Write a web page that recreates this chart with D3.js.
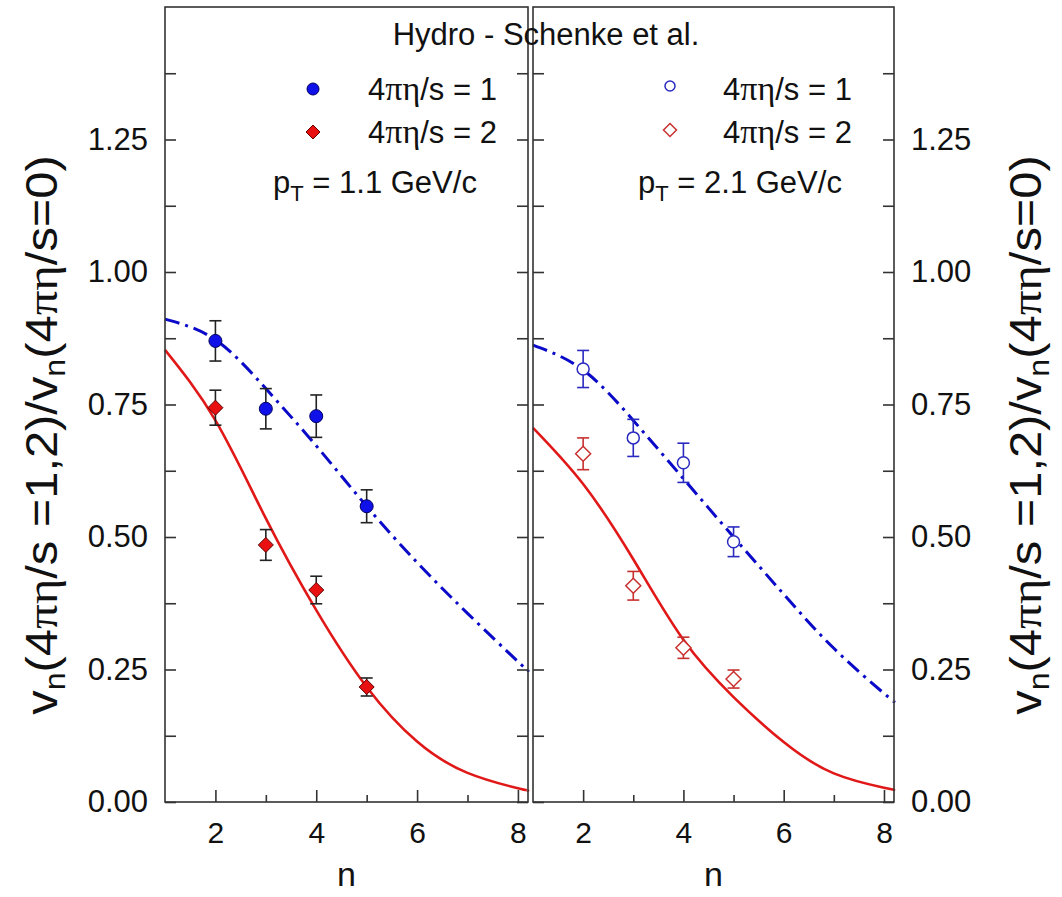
<!DOCTYPE html>
<html>
<head>
  <meta charset="UTF-8">
  <style>
    body { margin: 0; background: white; }
    text { font-family: "Liberation Sans", Arial, sans-serif; fill: #111; }
    .sym { font-family: "Liberation Serif", "Times New Roman", serif; }
  </style>
</head>
<body>
<svg></svg>
<script src="https://d3js.org/d3.v7.min.js"></script>
<script>

// data points (n = 2..5)
let nPts = [2, 3, 4, 5];
let leftEta1 = [0.870, 0.742, 0.728, 0.558];
let leftEta1Err = [0.038, 0.038, 0.040, 0.031];
let leftEta2 = [0.744, 0.485, 0.400, 0.217];
let leftEta2Err = [0.033, 0.029, 0.026, 0.017];
let rightEta1 = [0.817, 0.687, 0.640, 0.491];
let rightEta1Err = [0.035, 0.035, 0.037, 0.028];
let rightEta2 = [0.657, 0.408, 0.291, 0.232];
let rightEta2Err = [0.030, 0.027, 0.020, 0.017];

// hydro curves
let nCurve = [1, 2, 3, 4, 5, 6, 7, 8, 8.2];
let leftCurve1 = [0.911, 0.872, 0.780, 0.672, 0.558, 0.452, 0.356, 0.265, 0.248];
let leftCurve2 = [0.853, 0.720, 0.535, 0.362, 0.217, 0.114, 0.055, 0.026, 0.022];
let rightCurve1 = [0.862, 0.815, 0.720, 0.610, 0.500, 0.392, 0.290, 0.205, 0.190];
let rightCurve2 = [0.706, 0.600, 0.458, 0.306, 0.198, 0.113, 0.054, 0.027, 0.023];

let xMajor = [2, 4, 6, 8], xMinor = [3, 5, 7];
let yMajor = [0, 0.25, 0.5, 0.75, 1.0, 1.25];
let yMinor = [0.125, 0.375, 0.625, 0.875, 1.125, 1.375];

let width = 1062, height = 897;
let plotTop = 7, plotBottom = 802;

let svg = d3.select("svg").attr("width", width).attr("height", height);

let y = d3.scaleLinear().domain([0, 1.5]).range([plotBottom, plotTop]);

let blue = "#1010e8", red = "#e81010";

let panels = [
  {x0: 165, x1: 528, side: "left", filled: true, d1: leftEta1, e1: leftEta1Err, d2: leftEta2, e2: leftEta2Err,
   c1: leftCurve1, c2: leftCurve2, pt: "1.1"},
  {x0: 533, x1: 894, side: "right", filled: false, d1: rightEta1, e1: rightEta1Err, d2: rightEta2, e2: rightEta2Err,
   c1: rightCurve1, c2: rightCurve2, pt: "2.1"}
];

function diamond(g, cx, cy, r) {
  return g.append("path").attr("d", "M" + cx + "," + (cy - r) + "L" + (cx + r) + "," + cy + "L" + cx + "," + (cy + r) + "L" + (cx - r) + "," + cy + "Z");
}

function etaLabel(t, val) {
  t.append("tspan").text("4");
  t.append("tspan").attr("class", "sym").attr("font-size", 34).text("πη");
  t.append("tspan").text("/s = " + val);
}

panels.forEach(p => {
  let x = d3.scaleLinear().domain([1, 8.2]).range([p.x0, p.x1]);
  let g = svg.append("g");

  // curves
  let line1 = d3.line().x((d, i) => x(nCurve[i])).y(d => y(d)).curve(d3.curveNatural);
  g.append("path").attr("d", line1(p.c2)).attr("fill", "none")
    .attr("stroke", "#e01818").attr("stroke-width", 2.6);
  g.append("path").attr("d", line1(p.c1)).attr("fill", "none")
    .attr("stroke", "#0a0ac8").attr("stroke-width", 3)
    .attr("stroke-dasharray", "15,6,3,6");

  // error bars
  let errCol1 = p.filled ? "#222" : "#2a2ac0";
  let errCol2 = p.filled ? "#222" : "#c83030";
  [[p.d1, p.e1, errCol1], [p.d2, p.e2, errCol2]].forEach(s => {
    s[0].forEach((v, i) => {
      let cx = x(nPts[i]), e = s[1][i];
      let eg = g.append("g").attr("stroke", s[2]).attr("stroke-width", 1.6);
      eg.append("line").attr("x1", cx).attr("x2", cx).attr("y1", y(v - e)).attr("y2", y(v + e));
      eg.append("line").attr("x1", cx - 6).attr("x2", cx + 6).attr("y1", y(v - e)).attr("y2", y(v - e));
      eg.append("line").attr("x1", cx - 6).attr("x2", cx + 6).attr("y1", y(v + e)).attr("y2", y(v + e));
    });
  });

  // markers
  p.d1.forEach((v, i) => {
    let c = g.append("circle").attr("cx", x(nPts[i])).attr("cy", y(v));
    if (p.filled) c.attr("r", 6.5).attr("fill", blue).attr("stroke", "#000060").attr("stroke-width", 1);
    else c.attr("r", 6).attr("fill", "white").attr("stroke", "#2a2ac0").attr("stroke-width", 1.5);
  });
  p.d2.forEach((v, i) => {
    let d = diamond(g, x(nPts[i]), y(v), 7.5);
    if (p.filled) d.attr("fill", red).attr("stroke", "#600000").attr("stroke-width", 1);
    else d.attr("fill", "white").attr("stroke", "#c83030").attr("stroke-width", 1.5);
  });

  // frame
  g.append("rect").attr("x", p.x0).attr("y", plotTop).attr("width", p.x1 - p.x0).attr("height", plotBottom - plotTop)
    .attr("fill", "none").attr("stroke", "#333").attr("stroke-width", 1.6);

  // x axis
  let xa = g.append("g").attr("transform", "translate(0," + plotBottom + ")")
    .call(d3.axisBottom(x).tickValues(xMajor).tickSizeInner(-12).tickSizeOuter(0).tickPadding(20));
  xa.select(".domain").remove();
  xa.selectAll("line").attr("stroke", "#333").attr("stroke-width", 1.6);
  xa.selectAll("text").attr("font-size", 30).attr("font-family", "Liberation Sans, Arial, sans-serif").attr("fill", "#111");
  let xm = g.append("g").attr("transform", "translate(0," + plotBottom + ")")
    .call(d3.axisBottom(x).tickValues(xMinor).tickSizeInner(-7).tickSizeOuter(0).tickFormat(""));
  xm.select(".domain").remove();
  xm.selectAll("line").attr("stroke", "#333").attr("stroke-width", 1.6);

  // y ticks on both sides, pointing in
  [p.x0, p.x1].forEach((bx, k) => {
    let axisFn = k == 0 ? d3.axisLeft : d3.axisRight;
    let showLabels = (k == 0 && p.side == "left") || (k == 1 && p.side == "right");
    let ya = g.append("g").attr("transform", "translate(" + bx + ",0)")
      .call(axisFn(y).tickValues(yMajor.concat(yMinor)).tickSizeInner(-11).tickSizeOuter(0).tickPadding(17)
        .tickFormat(d => showLabels && yMajor.includes(d) ? d3.format(".2f")(d) : ""));
    ya.select(".domain").remove();
    ya.selectAll("line").attr("stroke", "#333").attr("stroke-width", 1.6);
    ya.selectAll("text").attr("font-size", 31).attr("font-family", "Liberation Sans, Arial, sans-serif").attr("fill", "#111");
  });

  // x label
  g.append("text").attr("x", (p.x0 + p.x1) / 2).attr("y", 886).attr("text-anchor", "middle")
    .attr("font-size", 34).text("n");

  // legend
  let lx = p.filled ? 313 : 670, tx = p.filled ? 368 : 723;
  if (p.filled) {
    g.append("circle").attr("cx", lx).attr("cy", 89).attr("r", 6).attr("fill", blue).attr("stroke", "#000060");
    diamond(g, lx, 132, 7).attr("fill", red).attr("stroke", "#600000");
  } else {
    g.append("circle").attr("cx", lx).attr("cy", 86).attr("r", 5).attr("fill", "none").attr("stroke", "#2a2ac0").attr("stroke-width", 1.5);
    diamond(g, lx, 130, 6.5).attr("fill", "none").attr("stroke", "#c83030").attr("stroke-width", 1.5);
  }
  etaLabel(g.append("text").attr("x", tx).attr("y", 100).attr("font-size", 31), 1);
  etaLabel(g.append("text").attr("x", tx).attr("y", 143).attr("font-size", 31), 2);

  let ptText = g.append("text").attr("x", p.filled ? 273 : 638).attr("y", 193).attr("font-size", 31);
  ptText.append("tspan").text("p");
  ptText.append("tspan").attr("dy", 8).attr("font-size", 22).text("T");
  ptText.append("tspan").attr("dy", -8).text(" = " + p.pt + " GeV/c");

  // y label (stretched along its length like the original)
  let lblX = p.side == "left" ? 57 : 1041;
  let yl = g.append("text").attr("transform", "translate(" + lblX + ",435) rotate(-90) scale(1.11,1)")
    .attr("text-anchor", "middle").attr("font-size", 44);
  yl.append("tspan").text("v");
  yl.append("tspan").attr("dy", 8).attr("font-size", 29).text("n");
  yl.append("tspan").attr("dy", -8).text("(4");
  yl.append("tspan").attr("class", "sym").text("πη");
  yl.append("tspan").text("/s =1,2)/v");
  yl.append("tspan").attr("dy", 8).attr("font-size", 29).text("n");
  yl.append("tspan").attr("dy", -8).text("(4");
  yl.append("tspan").attr("class", "sym").text("πη");
  yl.append("tspan").text("/s=0)");
});

svg.append("text").attr("x", 546).attr("y", 45).attr("text-anchor", "middle")
  .attr("font-size", 31).text("Hydro - Schenke et al.");

</script>
</body>
</html>
